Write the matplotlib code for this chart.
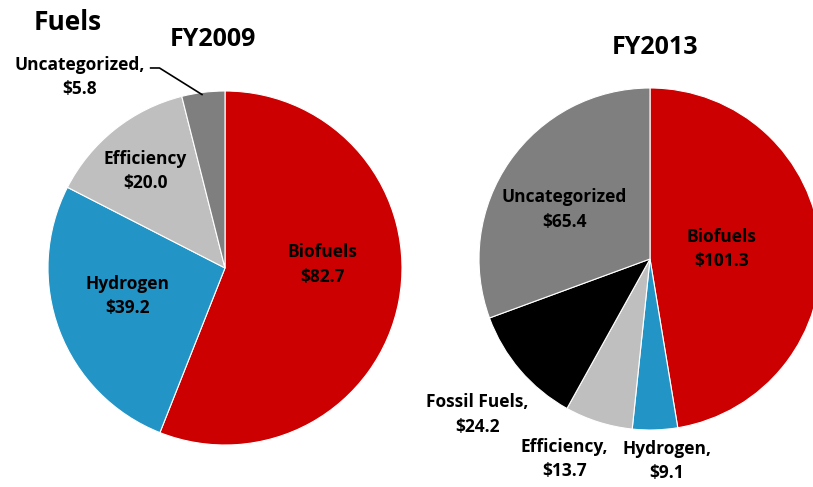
import matplotlib
matplotlib.use("Agg")
import matplotlib.pyplot as plt

plt.rcParams['font.family'] = ['Open Sans', 'DejaVu Sans']
plt.rcParams['font.weight'] = 'bold'

# FY2009 data ($M)
cats_09 = ["Biofuels", "Hydrogen", "Efficiency", "Uncategorized"]
vals_09 = [82.7, 39.2, 20.0, 5.8]
# FY2013 data ($M)
cats_13 = ["Biofuels", "Hydrogen", "Efficiency", "Fossil Fuels", "Uncategorized"]
vals_13 = [101.3, 9.1, 13.7, 24.2, 65.4]

colors = {"Biofuels": "#CC0000", "Hydrogen": "#2394C6", "Efficiency": "#BFBFBF",
          "Uncategorized": "#7F7F7F", "Fossil Fuels": "#000000"}

W, H = 813, 487
fig = plt.figure(figsize=(W / 100, H / 100), dpi=100)


def pie_axes(cx, cy, r):
    ax = fig.add_axes([(cx - r) / W, (H - cy - r) / H, 2 * r / W, 2 * r / H])
    ax.axis('off')
    return ax


def draw(ax, cats, vals, labels):
    ax.pie(vals, colors=[colors[c] for c in cats], startangle=90, counterclock=False,
           radius=1, wedgeprops=dict(edgecolor='white', linewidth=0.8))
    ax.set_xlim(-1, 1)
    ax.set_ylim(-1, 1)
    for c, v in zip(cats, vals):
        x, y, sep = labels[c]
        ax.text(x, y, f"{c}{sep}\n${v}", ha='center', va='center', fontsize=12.5,
                fontweight='bold', linespacing=1.45, clip_on=False)


ax1 = pie_axes(225, 268, 177)
draw(ax1, cats_09, vals_09, {
    "Biofuels": (0.55, 0.02, ""),
    "Hydrogen": (-0.55, -0.16, ""),
    "Efficiency": (-0.45, 0.55, ""),
    "Uncategorized": (-0.82, 1.08, ","),
})
ax1.plot([-0.42, -0.37, -0.13], [1.13, 1.13, 0.98], color='black', lw=1.2, clip_on=False)

ax2 = pie_axes(650, 259, 171)
draw(ax2, cats_13, vals_13, {
    "Biofuels": (0.42, 0.06, ""),
    "Uncategorized": (-0.50, 0.29, ""),
    "Fossil Fuels": (-1.01, -0.91, ","),
    "Efficiency": (-0.50, -1.17, ","),
    "Hydrogen": (0.10, -1.18, ","),
})

fig.text(68 / W, 1 - 22 / H, "Fuels", ha='center', va='center', fontsize=19, fontweight='bold')
fig.text(213 / W, 1 - 40 / H, "FY2009", ha='center', va='center', fontsize=18, fontweight='bold')
fig.text(655 / W, 1 - 48 / H, "FY2013", ha='center', va='center', fontsize=18, fontweight='bold')

fig.savefig("out.png", dpi=100)
